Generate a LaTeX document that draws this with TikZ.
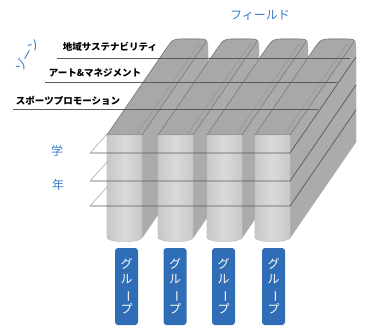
\documentclass[tikz,border=0pt]{standalone}
\usepackage{fontspec}
\usepackage{graphicx}
\newfontfamily\jp{Noto Sans CJK JP}
\definecolor{topg}{HTML}{A8A8A8}
\definecolor{sideg}{HTML}{ABABAB}
\definecolor{edgeg}{HTML}{7A7A7A}
\definecolor{frontg}{HTML}{DADADA}
\definecolor{frontd}{HTML}{C8C8C8}
\definecolor{lineg}{HTML}{5A5A5A}
\definecolor{faintg}{HTML}{A0A0A0}
\definecolor{lblue}{HTML}{3D7CCB}
\definecolor{boxblue}{HTML}{2F6EB6}
\tikzset{
  zonelbl/.style={font=\jp\bfseries\fontsize{9.5}{10}\selectfont, inner sep=0pt, text=black},
  bluelbl/.style={font=\jp\fontsize{12}{13}\selectfont, inner sep=0pt, text=lblue},
  grpbox/.style={fill=boxblue, rounded corners=3pt, minimum width=23pt, minimum height=77pt, inner sep=0pt,
     text=white, align=center, font=\jp\fontsize{12}{15}\selectfont},
  gridline/.style={draw=lineg, line width=0.7pt},
  faintline/.style={draw=faintg, line width=0.5pt},
}
\newcommand{\vbar}{\rotatebox[origin=c]{-90}{ー}}
\begin{document}
\begin{tikzpicture}[x=1pt,y=-1pt]
\useasboundingbox[fill=white] (0,0) rectangle (366,326);
% slabs
\foreach \L in {107,158,207,255} {
  \pgfmathsetmacro{\R}{\L+35}
  % side face / silhouette
  \path[fill=sideg, draw=edgeg!60, line width=0.4pt]
    (\L,135) -- ({\L+66-7},{39+10}) .. controls ({\L+66},39) .. ({\L+66+11},39)
    -- ({\R+66-11},39) .. controls ({\R+66},39) .. ({\R+66},51)
    -- ({\R+66},142) -- (\R,238) -- (\L,238) -- cycle;
  % top face
  \path[fill=topg, draw=edgeg, line width=0.6pt]
    (\L,135) -- ({\L+66-7},{39+10}) .. controls ({\L+66},39) .. ({\L+66+11},39)
    -- ({\R+66-11},39) .. controls ({\R+66},39) .. ({\R+66-7},{39+10})
    -- (\R,135) -- cycle;
  % inner edge on top
  \draw[edgeg!80, line width=0.5pt] ({\R-6},135) -- ({\R+57},44);
  % front face
  \path[left color=frontd, right color=frontd, middle color=frontg, draw=edgeg!50, line width=0.4pt]
    (\L,135) -- (\L,238) .. controls ({\L+3},243) and ({\R-3},243) .. (\R,238) -- (\R,135) -- cycle;
}
% zone lines on top
\draw[gridline] (57,58) -- (350,58);
\draw[gridline] (45,82) -- (337,82);
\draw[gridline] (13,109) -- (318,109);
% grade lines
\foreach \y in {153,181,206} {
  \draw[gridline] (90,\y) -- (290,\y) -- (356,{\y-96});
  \draw[faintline] (90,\y) -- (108,{\y-20});
}
% zone labels
\node[zonelbl] (z1) at (110,47) {地域サステナビリティ};
\node[zonelbl] (z2) at (95,73) {アート\&マネジメント};
\node[zonelbl] (z3) at (68,101) {スポーツプロモーション};
% blue labels
\node[bluelbl] (field) at (260,15) {フィールド};
\node[bluelbl, rotate=60] (zone) at (27,55) {ゾーン};
\node[bluelbl] (gaku) at (57,151) {学};
\node[bluelbl] (nen) at (58,185) {年};
% group boxes
\foreach \x/\n in {126.5/g1,175/g2,223.5/g3,273.5/g4} {
  \node[grpbox] (\n) at (\x,286.5) {グ\\ル\\\vbar\\プ};
}
\end{tikzpicture}
\end{document}
